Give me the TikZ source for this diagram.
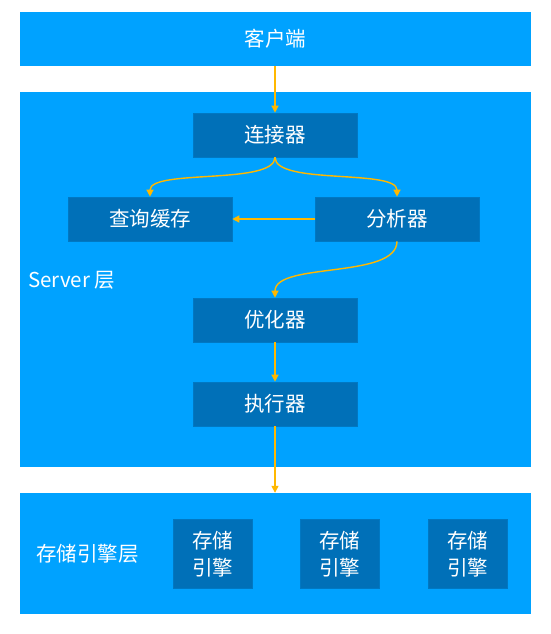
\documentclass[tikz,border=0pt]{standalone}
\usepackage{fontspec}
\setmainfont{Noto Sans CJK SC}
\usetikzlibrary{arrows.meta,positioning}
\definecolor{layerblue}{HTML}{00A2FF}
\definecolor{boxblue}{HTML}{0070B8}
\definecolor{flow}{HTML}{FFB800}
\tikzstyle{Layer} = [rectangle, fill=layerblue, minimum width=511pt, inner sep=0pt]
\tikzstyle{Box} = [rectangle, fill=boxblue, draw=boxblue!85!layerblue, line width=0.6pt, text=white, minimum width=164pt, minimum height=44pt, inner sep=0pt]
\tikzstyle{Engine} = [Box, minimum width=79pt, minimum height=69pt, align=center]
\tikzstyle{arrow} = [draw=flow, line width=1.4pt, -{Triangle[length=7pt,width=7pt]}]

\begin{document}
\begin{tikzpicture}[x=1pt, y=-1pt, font=\fontsize{20.5}{27}\selectfont]
\useasboundingbox (0,0) rectangle (551,634);

% layers
\node (Client)[Layer, minimum height=54pt, text=white] at (275.5,39) {客户端};
\node (Server)[Layer, minimum height=375pt] at (275.5,279.5) {};
\node (Storage)[Layer, minimum height=121pt] at (275.5,553.5) {};

\node (Server Label)[text=white, anchor=west, inner sep=0pt] at (28,280) {Server 层};
\node (Storage Label)[text=white, anchor=west, inner sep=0pt] at (36,554) {存储引擎层};

% server parts
\node (Connector)[Box] at (275,135) {连接器};
\node (Cache)[Box] at (150,219) {查询缓存};
\node (Parser)[Box] at (397,219) {分析器};
\node (Optimizer)[Box] at (275,320) {优化器};
\node (Executor)[Box] at (275,404) {执行器};

% engines
\node (Engine A)[Engine] at (212.5,554) {存储\\引擎};
\node (Engine B)[Engine] at (339.5,554) {存储\\引擎};
\node (Engine C)[Engine] at (467.5,554) {存储\\引擎};

\draw[arrow](Client.south -| Connector.north)--(Connector.north);
\draw[arrow](Connector.south) .. controls +(0,28) and +(0,-28) .. (Cache.north);
\draw[arrow](Connector.south) .. controls +(0,28) and +(0,-28) .. (Parser.north);
\draw[arrow](Parser.west)--(Cache.east);
\draw[arrow](Parser.south) .. controls +(0,38) and +(0,-36) .. (Optimizer.north);
\draw[arrow](Optimizer.south)--(Executor.north);
\draw[arrow](Executor.south)--(Storage.north -| Executor.south);

\end{tikzpicture}
\end{document}
